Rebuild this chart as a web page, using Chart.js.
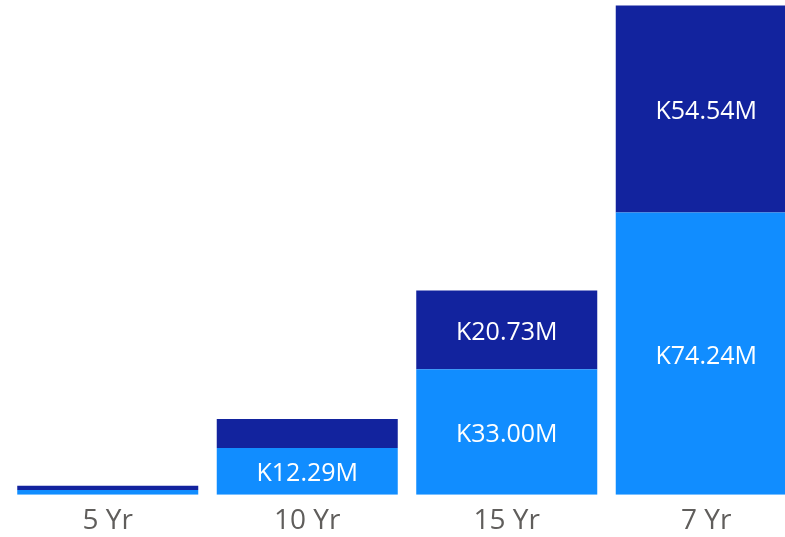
<!DOCTYPE html>
<html>
<head>
<meta charset="utf-8">
<script src="https://cdn.jsdelivr.net/npm/chart.js@4.4.1/dist/chart.umd.min.js"></script>
<style>
  html, body { margin: 0; padding: 0; background: #fff; overflow: hidden; }
  #wrap { position: absolute; left: 0; top: 0; width: 806px; height: 537px; }
</style>
</head>
<body>
<div id="wrap"><canvas id="ctx"></canvas></div>
<script>
const categories = ['5 Yr', '10 Yr', '15 Yr', '7 Yr']
// values in millions
const lowerValues = [1.24, 12.29, 33.00, 74.24]
const upperValues = [1.13, 7.64, 20.73, 54.54]

const $chart = document.getElementById('ctx')

const insideLabels = {
  id: 'insideLabels',
  afterDatasetsDraw: (chart, args, opts) => {
    const {ctx} = chart
    ctx.save()
    ctx.font = opts.font
    ctx.fillStyle = opts.color
    ctx.textAlign = 'center'
    ctx.textBaseline = 'middle'
    chart.data.datasets.forEach((ds, i) => {
      chart.getDatasetMeta(i).data.forEach((bar, j) => {
        const h = Math.abs(bar.base - bar.y)
        if (h < 40) return
        const text = 'K' + ds.data[j].toFixed(2) + 'M'
        ctx.fillText(text, bar.x, (bar.y + bar.base) / 2 + 3)
      })
    })
    ctx.restore()
  }
}

const chart = new Chart($chart, {
  type: 'bar',
  data: {
    labels: categories,
    datasets: [
      { data: lowerValues, backgroundColor: '#118DFF' },
      { data: upperValues, backgroundColor: '#12239E' }
    ]
  },
  options: {
    responsive: true,
    maintainAspectRatio: false,
    animation: false,
    categoryPercentage: 1,
    barPercentage: 0.9073,
    layout: { padding: { left: 8, right: 0, top: 0, bottom: 0 } },
    scales: {
      x: {
        stacked: true,
        grid: { display: false, drawTicks: false },
        border: { display: false },
        afterFit: (axis) => { axis.height = 42.3 },
        ticks: {
          padding: 19.2,
          color: '#605E5C',
          font: { family: "'Segoe UI', 'Open Sans', sans-serif", size: 28, lineHeight: '14.2px' }
        }
      },
      y: {
        stacked: true,
        display: false,
        min: 0,
        max: 130.2
      }
    },
    plugins: {
      legend: { display: false },
      tooltip: { enabled: false },
      insideLabels: { font: "25px 'Segoe UI', 'Open Sans', sans-serif", color: '#ffffff' }
    }
  },
  plugins: [insideLabels]
})
</script>
</body>
</html>
